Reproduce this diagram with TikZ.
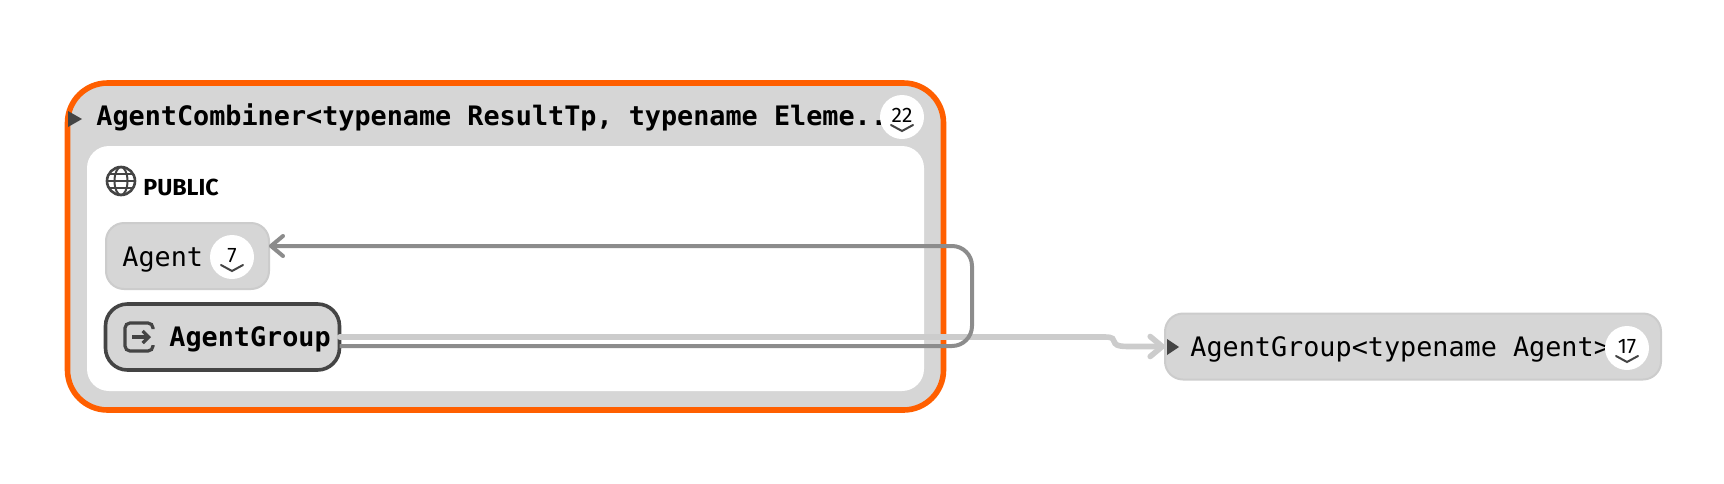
\documentclass[tikz,border=0pt]{standalone}
\usepackage{fontspec}
\setmainfont{Fira Sans}
\setmonofont{DejaVu Sans Mono}
\usetikzlibrary{arrows.meta}
\definecolor{boxgray}{HTML}{D6D6D6}
\definecolor{boxline}{HTML}{CCCCCC}
\definecolor{markgray}{HTML}{444444}
\definecolor{edgedark}{HTML}{8C8C8C}
\definecolor{edgelight}{HTML}{CCCCCC}
\definecolor{selorange}{HTML}{FF5F00}
\tikzset{
  classbox/.style={draw=boxline, line width=1pt, fill=boxgray, rounded corners=9pt, inner sep=0pt, outer sep=0pt},
  badge/.style={circle, fill=white, inner sep=0pt, outer sep=0pt, minimum size=22pt, font=\fontsize{10.5}{12}\selectfont},
  monotext/.style={anchor=base west, inner sep=0pt, font=\ttfamily\fontsize{13.4}{16}\selectfont},
  boldtext/.style={anchor=base west, inner sep=0pt, font=\ttfamily\bfseries\fontsize{13.4}{16}\selectfont},
  chevron/.style={draw=markgray, line width=1pt, line cap=round},
  opentip/.style={-{Straight Barb[length=6pt,width=10pt,round]}},
  marker/.style={fill=markgray, draw=none}
}
\begin{document}
\begin{tikzpicture}[x=0.5pt,y=-0.5pt]
  \useasboundingbox (0,0) rectangle (1724,483);
  % scope box
  \node[draw=selorange, line width=2.8pt, fill=boxgray, rounded corners=20pt, inner sep=0pt, outer sep=0pt,
        minimum width=438pt, minimum height=163.5pt] (combiner) at (505.5,246.5) {};
  \node[fill=white, rounded corners=11pt, inner sep=0pt, outer sep=0pt,
        minimum width=418.5pt, minimum height=122.5pt] (publicarea) at (505.5,268.5) {};
  \fill[marker] (68,111) -- (82,119) -- (68,127) -- cycle;
  \node[boldtext] (combinertitle) at (96,125) {AgentCombiner<typename ResultTp, typename Eleme..};
  \node[badge] (combinerbadge) at (902,117) {\raisebox{1.5pt}{22}};
  \draw[chevron] (891,125) -- (902,131) -- (913,125);
  % public section
  \draw[markgray, line width=1.3pt] (121,181) circle (14);
  \draw[markgray, line width=1pt] (121,181) ellipse (6.5 and 14);
  \draw[markgray, line width=1pt] (107,181) -- (135,181);
  \draw[markgray, line width=1pt] (109,174) -- (133,174);
  \draw[markgray, line width=1pt] (109,188) -- (133,188);
  \node[anchor=base west, inner sep=0pt, font=\bfseries\fontsize{11.6}{14}\selectfont] (publiclabel) at (143,195) {PUBLIC};
  % members
  \node[classbox, minimum width=81.5pt, minimum height=33pt] (agent) at (187.5,256) {};
  \node[monotext] (agentlabel) at (122,266) {Agent};
  \node[badge] (agentbadge) at (232,257) {\raisebox{1.5pt}{7}};
  \draw[chevron] (221,265) -- (232,271) -- (243,265);
  \node[classbox, draw=markgray, line width=1.8pt, rounded corners=11pt, minimum width=117pt, minimum height=33pt] (agentgroup) at (222.5,337) {};
  \draw[markgray, line width=1.6pt, rounded corners=2.5pt] (153,329) -- (153,323) -- (125,323) -- (125,351) -- (153,351) -- (153,345);
  \draw[markgray, line width=1.6pt, -{Straight Barb[length=3pt,width=6pt]}] (132,337) -- (151,337);
  \node[boldtext] (agentgrouplabel) at (169,346) {AgentGroup};
  % outside class
  \node[classbox, minimum width=248pt, minimum height=33pt] (groupclass) at (1413,346.5) {};
  \fill[marker] (1167,339) -- (1179,347) -- (1167,355) -- cycle;
  \node[monotext] (groupclasslabel) at (1190,356) {AgentGroup<typename Agent>};
  \node[badge] (groupbadge) at (1627,348) {\raisebox{1.5pt}{17}};
  \draw[chevron] (1616,356) -- (1627,362) -- (1638,356);
  % connectors
  \draw[edgelight, line width=2.8pt, opentip, line cap=round]
    (agentgroup.east) -- (1105,337) .. controls (1122,337) and (1105,346.5) .. (1128,346.5) -- (groupclass.west);
  \draw[edgedark, line width=2pt, opentip, rounded corners=10pt]
    ([yshift=-4.5pt]agentgroup.east) -- (972,346) -- (972,246) -- ([yshift=5pt]agent.east);
\end{tikzpicture}
\end{document}
